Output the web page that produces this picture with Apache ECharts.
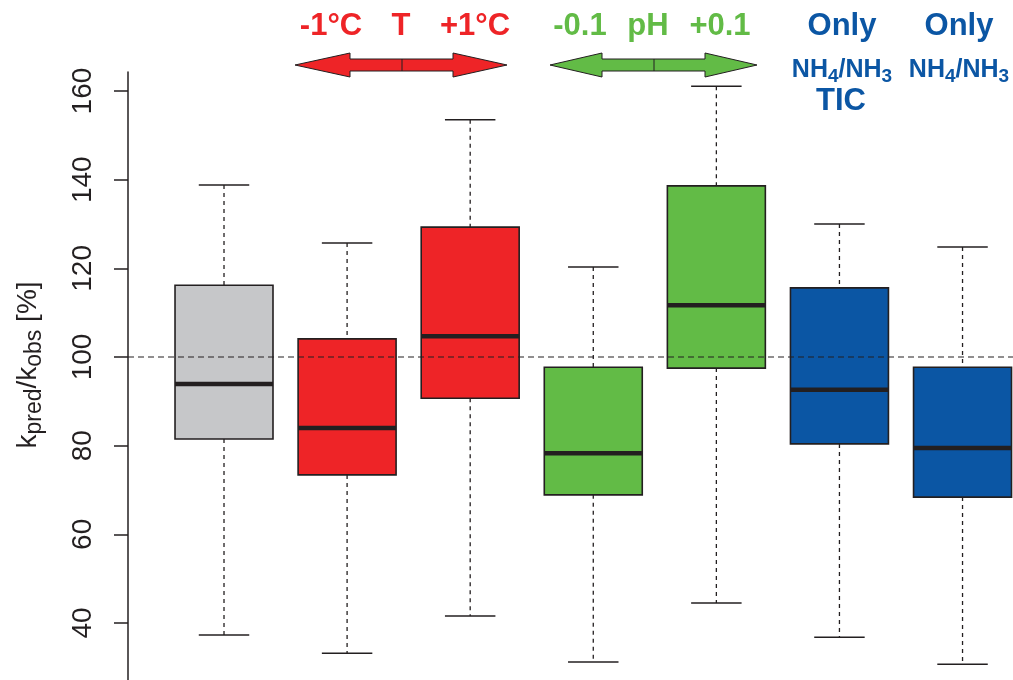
<!DOCTYPE html>
<html>
<head>
<meta charset="utf-8">
<script src="https://cdn.jsdelivr.net/npm/echarts@6/dist/echarts.min.js"></script>
<style>
  html, body { margin: 0; padding: 0; background: #fff; }
  #main { width: 1013px; height: 680px; }
</style>
</head>
<body>
<div id="main"></div>
<script>
// 每个箱线图的数据
const categories = ['Ref', 'T -1°C', 'T +1°C', 'pH -0.1', 'pH +0.1', 'NH4/NH3 TIC', 'NH4/NH3']
const whiskerLow = [37.3, 33.2, 41.6, 31.2, 44.5, 36.8, 30.7]
const q1 = [81.5, 73.4, 90.7, 68.9, 97.5, 80.4, 68.4]
const median = [93.9, 84.0, 104.7, 78.3, 111.7, 92.6, 79.5]
const q3 = [116.2, 104.1, 129.3, 97.7, 138.6, 115.6, 97.7]
const whiskerHigh = [138.8, 125.7, 153.5, 120.3, 161.1, 130.0, 124.8]
const yTicks = [40, 60, 80, 100, 120, 140, 160]
const refValue = 100

const RED = '#ee2427'
const GREEN = '#62bb46'
const BLUE = '#0b56a4'
const GRAY = '#c6c7c9'
const INK = '#231f20'
const boxColors = [GRAY, RED, RED, GREEN, GREEN, BLUE, BLUE]
const FONT = '"Liberation Sans", Arial, sans-serif'
const X_MIN = 0.22
const X_MAX = 7.41

const boxData = categories.map((c, i) => [i + 1, whiskerLow[i], q1[i], median[i], q3[i], whiskerHigh[i]])

function renderBox (params, api) {
  const x = api.value(0)
  const pLow = api.coord([x, api.value(1)])
  const pQ1 = api.coord([x, api.value(2)])
  const pMed = api.coord([x, api.value(3)])
  const pQ3 = api.coord([x, api.value(4)])
  const pHigh = api.coord([x, api.value(5)])
  const cx = pLow[0]
  const halfBox = api.size([0.796, 0])[0] / 2
  const halfCap = api.size([0.41, 0])[0] / 2
  const dash = { stroke: INK, lineWidth: 1.3, lineDash: [4, 4] }
  const solid = { stroke: INK, lineWidth: 1.5 }
  return {
    type: 'group',
    children: [
      { type: 'line', shape: { x1: cx, y1: pHigh[1], x2: cx, y2: pQ3[1] }, style: dash },
      { type: 'line', shape: { x1: cx, y1: pQ1[1], x2: cx, y2: pLow[1] }, style: dash },
      { type: 'line', shape: { x1: cx - halfCap, y1: pHigh[1], x2: cx + halfCap, y2: pHigh[1] }, style: solid },
      { type: 'line', shape: { x1: cx - halfCap, y1: pLow[1], x2: cx + halfCap, y2: pLow[1] }, style: solid },
      {
        type: 'rect',
        shape: { x: cx - halfBox, y: pQ3[1], width: halfBox * 2, height: pQ1[1] - pQ3[1] },
        style: { fill: boxColors[params.dataIndex], stroke: INK, lineWidth: 1.6 }
      },
      { type: 'line', z2: 10, shape: { x1: cx - halfBox, y1: pMed[1], x2: cx + halfBox, y2: pMed[1] }, style: { stroke: INK, lineWidth: 4.5 } }
    ]
  }
}

// 顶部的双箭头
function arrow (x0, xb1, xm, xb2, x1, color) {
  return [
    {
      type: 'polygon',
      shape: { points: [[x0, 65], [xb1, 53], [xb1, 59], [xb2, 59], [xb2, 53], [x1, 65], [xb2, 77], [xb2, 71], [xb1, 71], [xb1, 77]] },
      style: { fill: color, stroke: INK, lineWidth: 1 }
    },
    { type: 'line', shape: { x1: xm, y1: 59, x2: xm, y2: 71 }, style: { stroke: INK, lineWidth: 1 } }
  ]
}

function label (text, x, y, color, size) {
  return {
    type: 'text', x: x, y: y,
    style: { text: text, fill: color, font: 'bold ' + size + 'px ' + FONT, textAlign: 'center', textVerticalAlign: 'middle' }
  }
}

function nhLabel (x, y) {
  return {
    type: 'text', x: x, y: y,
    style: {
      text: '{n|NH}{s|4}{n|/NH}{s|3}',
      textAlign: 'center', textVerticalAlign: 'middle',
      rich: {
        n: { fill: BLUE, font: 'bold 25px ' + FONT, verticalAlign: 'top', lineHeight: 28 },
        s: { fill: BLUE, font: 'bold 19px ' + FONT, verticalAlign: 'bottom', lineHeight: 28, padding: [13, 0, 0, 0] }
      }
    }
  }
}

const mainDiv = document.getElementById('main')
const myChart = echarts.init(mainDiv)
myChart.setOption({
  animation: false,
  backgroundColor: '#fff',
  grid: { left: 128, right: 0, top: 72, bottom: 0, containLabel: false },
  xAxis: { type: 'value', min: X_MIN, max: X_MAX, show: false },
  yAxis: {
    type: 'value',
    min: 27.14,
    max: 164.29,
    axisLine: { show: true, lineStyle: { color: INK, width: 1.5 } },
    axisTick: { show: true, length: 14, customValues: yTicks, lineStyle: { color: INK, width: 1.5 } },
    axisLabel: { customValues: yTicks, rotate: 90, margin: 31, color: INK, fontSize: 28, fontFamily: FONT },
    splitLine: { show: false }
  },
  series: [
    {
      type: 'custom',
      renderItem: renderBox,
      data: boxData,
      z: 2
    },
    {
      type: 'line',
      data: [[X_MIN, refValue], [X_MAX, refValue]],
      symbol: 'none',
      z: 3,
      lineStyle: { color: INK, width: 1.2, type: [6, 4] }
    }
  ],
  graphic: [
    ...arrow(295, 350, 402, 453, 507, RED),
    ...arrow(550, 602, 654, 705, 757, GREEN),
    label('-1°C', 331, 26, RED, 31),
    label('T', 401, 26, RED, 31),
    label('+1°C', 475, 26, RED, 31),
    label('-0.1', 580, 26, GREEN, 31),
    label('pH', 648, 26, GREEN, 31),
    label('+0.1', 720, 26, GREEN, 31),
    label('Only', 842, 26, BLUE, 31),
    label('Only', 959, 26, BLUE, 31),
    nhLabel(842, 72),
    nhLabel(959, 72),
    label('TIC', 841, 101, BLUE, 31),
    {
      type: 'text', x: 30, y: 365, rotation: Math.PI / 2,
      style: {
        text: '{k|k}{s|pred}{k|/k}{s|obs}{k| [%]}',
        textAlign: 'center', textVerticalAlign: 'middle',
        rich: {
          k: { fill: INK, font: '28px ' + FONT, verticalAlign: 'top', lineHeight: 32 },
          s: { fill: INK, font: '23px ' + FONT, verticalAlign: 'bottom', lineHeight: 32, padding: [16, 0, 0, 0] }
        }
      }
    }
  ]
})
</script>
</body>
</html>
